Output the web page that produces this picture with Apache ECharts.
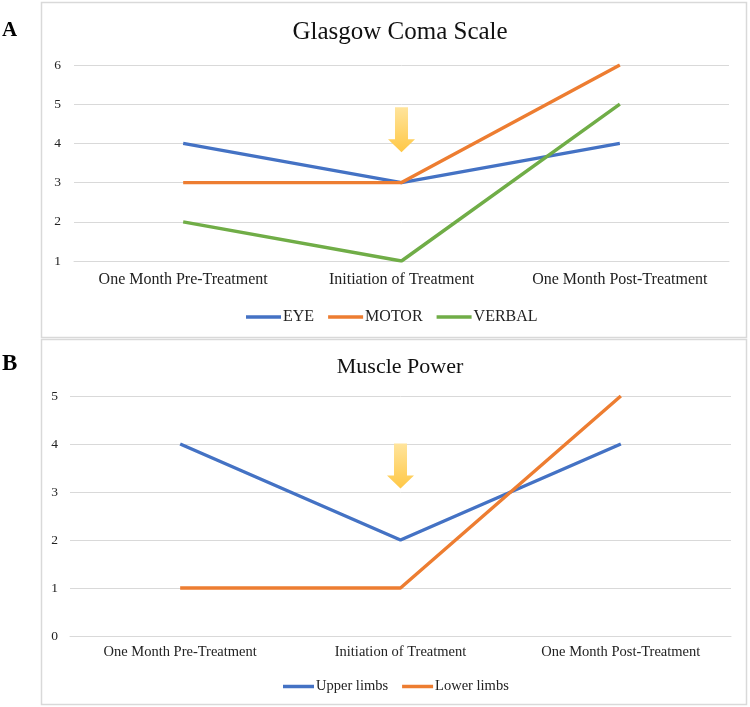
<!DOCTYPE html>
<html><head><meta charset="utf-8">
<script src="https://cdn.jsdelivr.net/npm/echarts@6/dist/echarts.min.js"></script>
<style>html,body{margin:0;padding:0;background:#fff}#c{width:750px;height:707px}</style>
</head><body><div id="c"></div>
<script>
// ---- data ----
var categories = ['One Month Pre-Treatment', 'Initiation of Treatment', 'One Month Post-Treatment'];
var gcsEye = [4, 3, 4];
var gcsMotor = [3, 3, 6];
var gcsVerbal = [2, 1, 5];
var musUpper = [4, 2, 4];
var musLower = [1, 1, 5];
var gcsTicks = [1, 2, 3, 4, 5, 6];
var musTicks = [0, 1, 2, 3, 4, 5];
var arrowA = [1, 4.35];
var arrowB = [1, 3.54];

var FONT = '"Liberation Serif","Times New Roman",serif';
var BLUE = '#4472C4', ORANGE = '#ED7D31', GREEN = '#70AD47', GRID = '#D9D9D9';
var arrowPath = 'path://M7,0 L20,0 L20,32 L27,32 L13.5,45 L0,32 L7,32 Z';
var arrowColor = {type:'linear', x:0, y:0, x2:0, y2:1, colorStops:[{offset:0,color:'#FFE49C'},{offset:1,color:'#FFC846'}]};

function line(name, data, color, xi, yi, arrowCoord) {
  var s = {
    name: name, type: 'line', data: data, xAxisIndex: xi, yAxisIndex: yi,
    symbol: 'none', lineStyle: {width: 3.4, color: color}, itemStyle: {color: color},
    animation: false, z: 3
  };
  if (arrowCoord) {
    s.markPoint = {
      silent: true, animation: false,
      symbol: arrowPath, symbolSize: [27, 45], symbolKeepAspect: false,
      itemStyle: {color: arrowColor},
      label: {show: false},
      data: [{coord: arrowCoord}]
    };
  }
  return s;
}

function yAxis(ticks, idx, margin) {
  return {
    type: 'value', gridIndex: idx, min: ticks[0], max: ticks[ticks.length - 1], interval: 1,
    axisLine: {show: false}, axisTick: {show: false},
    axisLabel: {color: '#222', fontFamily: FONT, fontSize: 13.5, margin: margin},
    splitLine: {lineStyle: {color: GRID, width: 1}}
  };
}
function xAxis(idx, fs, margin) {
  return {
    type: 'category', gridIndex: idx, data: categories, boundaryGap: true,
    axisLine: {lineStyle: {color: GRID, width: 1}}, axisTick: {show: false},
    axisLabel: {color: '#222', fontFamily: FONT, fontSize: fs, margin: margin, interval: 0}
  };
}

var chart = echarts.init(document.getElementById('c'));
chart.setOption({
  backgroundColor: '#fff',
  animation: false,
  title: [
    {text: 'Glasgow Coma Scale', left: 395, top: 15, textAlign: 'center',
     textStyle: {fontFamily: FONT, fontSize: 25, fontWeight: 'normal', color: '#111'}},
    {text: 'Muscle Power', left: 395, top: 351, textAlign: 'center',
     textStyle: {fontFamily: FONT, fontSize: 22, fontWeight: 'normal', color: '#111'}},
    {text: 'A', left: 2, top: 20, padding: 0,
     textStyle: {fontFamily: FONT, fontSize: 21, fontWeight: 'bold', color: '#000'}},
    {text: 'B', left: 2, top: 353, padding: 0,
     textStyle: {fontFamily: FONT, fontSize: 23, fontWeight: 'bold', color: '#000'}}
  ],
  graphic: [
    {type: 'rect', shape: {x: 41.5, y: 2.5, width: 705, height: 335}, style: {fill: 'none', stroke: GRID, lineWidth: 1.5}, silent: true, z: -1},
    {type: 'rect', shape: {x: 41.5, y: 339.5, width: 705, height: 365}, style: {fill: 'none', stroke: GRID, lineWidth: 1.5}, silent: true, z: -1}
  ],
  legend: [
    {data: ['EYE', 'MOTOR', 'VERBAL'], left: 241, top: 304, itemWidth: 35, itemHeight: 3.5, itemGap: 14,
     icon: 'rect', textStyle: {fontFamily: FONT, fontSize: 16, color: '#222', padding: [0,0,0,-3]}},
    {data: ['Upper limbs', 'Lower limbs'], left: 278, top: 674, itemWidth: 31, itemHeight: 3.5, itemGap: 14,
     icon: 'rect', textStyle: {fontFamily: FONT, fontSize: 14.5, color: '#222', padding: [0,0,0,-3]}}
  ],
  grid: [
    {left: 74, right: 21, top: 65, height: 196},
    {left: 70, right: 19, top: 396, height: 240}
  ],
  xAxis: [xAxis(0, 16, 11), xAxis(1, 14.5, 9)],
  yAxis: [yAxis(gcsTicks, 0, 13), yAxis(musTicks, 1, 12)],
  series: [
    line('EYE', gcsEye, BLUE, 0, 0),
    line('MOTOR', gcsMotor, ORANGE, 0, 0, arrowA),
    line('VERBAL', gcsVerbal, GREEN, 0, 0),
    line('Upper limbs', musUpper, BLUE, 1, 1, arrowB),
    line('Lower limbs', musLower, ORANGE, 1, 1)
  ]
});
</script>
</body></html>
